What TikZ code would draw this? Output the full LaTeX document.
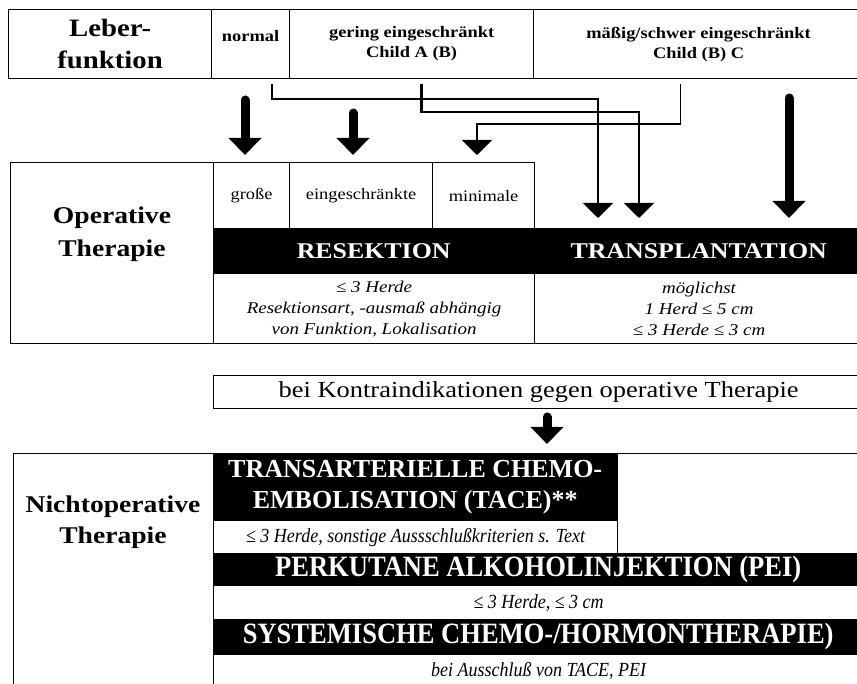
\documentclass[tikz,border=0pt]{standalone}
\usepackage{fontspec}
\setmainfont{Liberation Serif}
\newfontfamily\widefont[FakeStretch=1.15]{Liberation Serif}
\newfontfamily\narrowfont[FakeStretch=0.9]{Liberation Serif}
\usetikzlibrary{arrows.meta}

\tikzset{
  box/.style={draw, line width=1.2pt, inner sep=0pt, anchor=north west, align=center},
  bar/.style={fill=black, text=white, inner sep=0pt, anchor=north west, align=center},
  fatarrow/.style={line width=9pt, line cap=round, -{Triangle[width=32pt,length=17pt]}},
  route/.style={line width=2.4pt, -{Triangle[width=30pt,length=15pt]}},
}

\begin{document}
\begin{tikzpicture}[x=1pt, y=-1pt]
    \useasboundingbox (0,0) rectangle (857,684);
    \fill[white] (0,0) rectangle (857,684);

    \node[box, minimum width=203, minimum height=69, font=\widefont\bfseries\fontsize{25}{32}\selectfont] (leber) at (8,9) {Leber-\\funktion};
    \node[box, minimum width=78, minimum height=69, font=\widefont\bfseries\fontsize{16}{20}\selectfont] (normal) at (211,9) {normal\\[-4pt]};
    \node[box, minimum width=244, minimum height=69, font=\widefont\bfseries\fontsize{16}{20}\selectfont] (gering) at (289,9) {gering eingeschränkt\\Child A (B)};
    \node[box, minimum width=330, minimum height=69, font=\widefont\bfseries\fontsize{16}{20}\selectfont] (maessig) at (533,9) {mäßig/schwer eingeschränkt\\Child (B) C};

    \node[box, minimum width=203, minimum height=181] (operativ) at (10,162) {};
    \node[align=center, font=\widefont\bfseries\fontsize{24}{33}\selectfont] (operativtxt) at (112,234) {Operative\\Therapie};
    \node[box, minimum width=76, minimum height=66, font=\widefont\fontsize{16}{20}\selectfont] (grosse) at (213,162) {große};
    \node[box, minimum width=143, minimum height=66, font=\widefont\fontsize{16}{20}\selectfont] (eing) at (289,162) {eingeschränkte};
    \node[box, minimum width=102, minimum height=66, font=\widefont\fontsize{16}{20}\selectfont] (minimal) at (432,162) {minimale};
    \node[bar, minimum width=321, minimum height=45, font=\widefont\bfseries\fontsize{22.5}{26}\selectfont] (resekt) at (213,228) {RESEKTION};
    \node[bar, minimum width=329, minimum height=45, font=\widefont\bfseries\fontsize{22.5}{26}\selectfont] (transpl) at (534,228) {TRANSPLANTATION};
    \node[box, minimum width=321, minimum height=70, font=\widefont\itshape\fontsize{16.5}{21}\selectfont] (resekttxt) at (213,273) {≤ 3 Herde\\Resektionsart, -ausmaß abhängig\\von Funktion, Lokalisation};
    \node[box, minimum width=329, minimum height=70, font=\widefont\itshape\fontsize{16.5}{21}\selectfont] (transpltxt) at (534,273) {möglichst\\1 Herd ≤ 5 cm\\≤ 3 Herde ≤ 3 cm};

    \coordinate (p1) at (245,100);
    \draw[fatarrow, shorten >=7pt] (p1) -- (p1 |- grosse.north);
    \coordinate (p2) at (353,113);
    \draw[fatarrow, shorten >=7pt] (p2) -- (p2 |- eing.north);
    \coordinate (k1) at (598,99);
    \draw[route, shorten >=10pt] ([xshift=-18pt,yshift=-5pt]normal.south east) |- (k1) -- (k1 |- transpl.north);
    \coordinate (k2) at (639,112);
    \draw[route, shorten >=10pt] ([xshift=10pt,yshift=-5pt]gering.south) |- (k2) -- (k2 |- transpl.north);
    \coordinate (k3) at (477,124);
    \draw[route, line width=1.5pt, shorten >=7pt] ([xshift=-18pt,yshift=-5pt]maessig.south) |- (k3) -- (k3 |- minimal.north);
    \coordinate (p4) at (789,98);
    \draw[fatarrow, shorten >=10pt] (p4) -- (p4 |- transpl.north);

    \node[box, minimum width=650, minimum height=33, font=\widefont\fontsize{23}{26}\selectfont] (kontra) at (213,375) {bei Kontraindikationen gegen operative Therapie};

    \node[box, minimum width=200, minimum height=240] (nichtop) at (13,453) {};
    \node[align=center, font=\widefont\bfseries\fontsize{24}{31}\selectfont] (nichtoptxt) at (113,522) {Nichtoperative\\Therapie};
    \node[bar, minimum width=404, minimum height=67, font=\bfseries\fontsize{26}{31}\selectfont] (tace) at (213,453) {TRANSARTERIELLE CHEMO-\\EMBOLISATION (TACE)**};
    \node[box, minimum width=404, minimum height=33, font=\narrowfont\itshape\fontsize{20}{22}\selectfont] (tacetxt) at (213,520) {≤ 3 Herde, sonstige Aussschlußkriterien s. Text};
    \node[box, minimum width=246, minimum height=100] (leer) at (617,453) {};
    \node[bar, minimum width=650, minimum height=32, font=\narrowfont\bfseries\fontsize{29.5}{32}\selectfont] (pei) at (213,553) {PERKUTANE ALKOHOLINJEKTION (PEI)};
    \node[box, minimum width=650, minimum height=34, font=\narrowfont\itshape\fontsize{20}{22}\selectfont] (peitxt) at (213,585) {≤ 3 Herde, ≤ 3 cm};
    \node[bar, minimum width=650, minimum height=35, font=\narrowfont\bfseries\fontsize{29.5}{32}\selectfont] (sys) at (213,619) {SYSTEMISCHE CHEMO-/HORMONTHERAPIE)};
    \node[box, minimum width=650, minimum height=32, font=\narrowfont\itshape\fontsize{20}{22}\selectfont] (systxt) at (213,654) {bei Ausschluß von TACE, PEI};

    \coordinate (p5) at (547,417);
    \draw[fatarrow, shorten >=9pt] (p5) -- (p5 |- tace.north);
\end{tikzpicture}
\end{document}
